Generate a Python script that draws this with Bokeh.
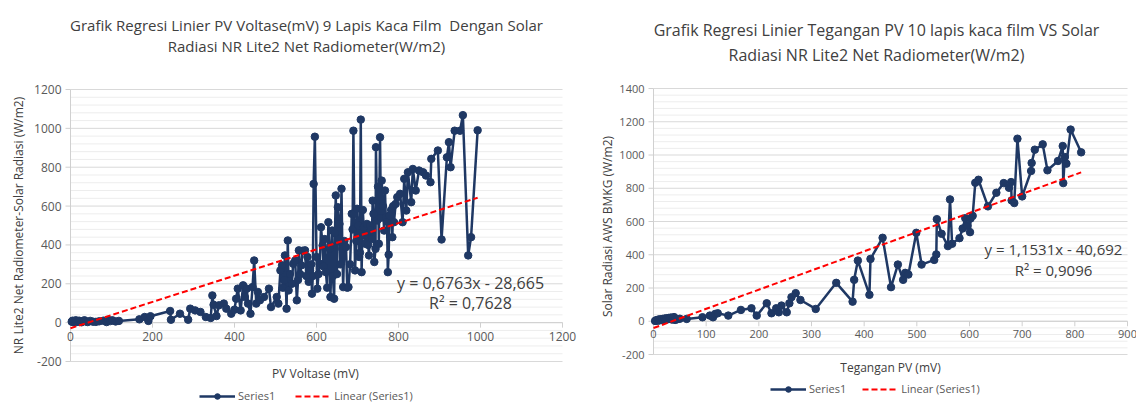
import math
from bokeh.plotting import figure
from bokeh.layouts import row
from bokeh.models import Range1d, Label, Legend, LegendItem
from bokeh.core.properties import value
from bokeh.embed import file_html
from bokeh.resources import INLINE

FONT = "Open Sans"
NAVY = "#1F3864"
RED = "#FF0000"
TXT = "#404040"
TICK_TXT = "#595959"
AXIS_COL = "#D0D0D0"
MAJOR_COL = "#D9D9D9"
MINOR_COL = "#EDEDED"
FIG_H = 403

# ---------------- Left chart data (PV Voltase mV vs NR Lite2 W/m2) ----------------
left_x = [3, 5, 7, 9, 11, 13, 15, 18, 21, 24, 27, 30, 34, 38, 42, 48, 55, 62, 70, 80,
          88, 92, 97, 102, 110, 118, 168, 181, 190, 195, 243, 245, 267, 287, 292, 304,
          317, 330, 342, 346, 349, 356, 362, 374, 380, 392, 400, 404, 408, 415, 421, 425,
          430, 433, 439, 444, 448, 453, 457, 462, 472, 484, 489, 503, 507, 512, 516, 518,
          521, 523, 527, 530, 532, 535, 540, 543, 548, 552, 555, 557, 560, 563, 566, 572,
          575, 578, 581, 584, 587, 589, 591, 593, 596, 600, 602, 605, 608, 611, 615, 617,
          620, 623, 626, 629, 632, 634, 638, 640, 643, 645, 647, 650, 652, 656, 658, 661,
          663, 665, 668, 672, 675, 678, 682, 686, 688, 690, 692, 694, 697, 699, 702, 704,
          706, 708, 710, 713, 715, 717, 719, 723, 726, 728, 730, 732, 735, 737, 739, 741,
          744, 745, 748, 750, 752, 755, 757, 759, 762, 765, 767, 769, 772, 774, 776, 778,
          782, 785, 787, 789, 793, 797, 804, 810, 814, 819, 823, 831, 835, 842, 850, 860,
          867, 878, 880, 896, 905, 918, 923, 927, 937, 950, 957, 970, 977, 993]
left_y = [5, 10, 2, 8, 4, 12, 3, 7, 10, 5, 2, 8, 12, 6, 3, 9, 5, 4, 7, 10,
          3, 14, 8, 12, 6, 9, 17, 29, 9, 33, 60, 15, 46, 15, 72, 63,
          55, 29, 24, 140, 92, 34, 89, 98, 72, 46, 67, 123, 175, 63, 192, 132,
          175, 98, 46, 183, 320, 98, 158, 115, 132, 175, 80, 132, 98, 269, 295, 180,
          218, 346, 72, 423, 166, 250, 200, 303, 320, 115, 220, 372, 250, 295, 370, 372,
          240, 338, 210, 269, 300, 149, 240, 714, 957, 338, 175, 250, 303, 491, 397, 290,
          430, 260, 180, 517, 380, 132, 474, 240, 123, 460, 655, 250, 594, 508, 300, 689,
          380, 183, 420, 389, 180, 183, 300, 560, 480, 988, 560, 269, 420, 586, 500, 338,
          360, 1045, 260, 580, 491, 450, 406, 508, 400, 346, 500, 474, 430, 628, 560, 312,
          380, 903, 526, 700, 406, 954, 540, 731, 600, 474, 680, 543, 520, 260, 350, 551,
          580, 440, 600, 517, 611, 646, 663, 517, 740, 577, 774, 620, 791, 680, 783, 774,
          757, 723, 843, 886, 428, 851, 929, 800, 988, 988, 1068, 346, 440, 990]
left_slope = 0.6763
left_intercept = -28.665
left_x_ticks = [0, 200, 400, 600, 800, 1000, 1200]
left_y_ticks = [-200, 0, 200, 400, 600, 800, 1000, 1200]

# ---------------- Right chart data (Tegangan PV mV vs AWS BMKG W/m2) ----------------
right_x = [3, 5, 7, 9, 11, 13, 15, 17, 19, 21, 23, 25, 27, 29, 31, 33, 35, 37, 39, 41,
           45, 50, 63, 93, 107, 113, 117, 122, 142, 166, 186, 196, 215, 224, 233, 238,
           243, 253, 258, 262, 270, 279, 308, 347, 378, 381, 388, 410, 412, 435, 451, 464,
           474, 478, 484, 499, 509, 533, 537, 538, 547, 559, 563, 567, 581, 587, 592, 596,
           601, 602, 606, 611, 617, 635, 651, 665, 675, 679, 680, 685, 691, 700, 717, 718,
           724, 739, 748, 768, 777, 778, 781, 784, 792, 812]
right_y = [2, 6, 3, 10, 5, 12, 8, 14, 6, 16, 10, 18, 12, 20, 15, 22, 10, 18, 25, 8,
           12, 15, 14, 24, 34, 24, 44, 48, 34, 68, 78, 34, 108, 48, 78, 54,
           94, 54, 108, 145, 169, 128, 74, 231, 118, 249, 365, 159, 375, 502, 205, 341,
           249, 291, 281, 532, 341, 369, 402, 614, 526, 452, 733, 466, 500, 558, 620, 574,
           536, 618, 634, 833, 851, 691, 773, 831, 803, 837, 727, 711, 1098, 751, 904, 952,
           1032, 1064, 908, 964, 1054, 831, 988, 948, 1153, 1016]
right_slope = 1.1531
right_intercept = -40.692
right_x_ticks = [0, 100, 200, 300, 400, 500, 600, 700, 800, 900]
right_y_ticks = [-200, 0, 200, 400, 600, 800, 1000, 1200, 1400]

MINOR_STEP = 40


def make_chart(xs, ys, slope, intercept, x_ticks, y_ticks, *, fig_left, width,
               plot_px, tick_px, title_lines, title_px, title_pos, ylabel, ylabel_pos,
               xlabel, xlabel_pos, eq_lines, eq_px, eq_pos, legend_pos, legend_spacing):
    # plot_px = (page x of first x tick, page x of last x tick,
    #            page y of last y tick, page y of first y tick)
    px0, px1, py_top, py_bot = plot_px
    kx = (px1 - px0) / (x_ticks[-1] - x_ticks[0])
    ky = (py_bot - py_top) / (y_ticks[-1] - y_ticks[0])
    x_start = x_ticks[0] - (px0 - fig_left) / kx
    x_end = x_ticks[-1] + (fig_left + width - px1) / kx
    y_start = y_ticks[0] - (FIG_H - py_bot) / ky
    y_end = y_ticks[-1] + py_top / ky

    p = figure(width=width, height=FIG_H, output_backend="svg", toolbar_location=None,
               x_range=Range1d(x_start, x_end), y_range=Range1d(y_start, y_end),
               min_border=0)
    p.axis.visible = False
    p.grid.visible = False
    p.outline_line_color = None
    p.background_fill_color = "white"
    p.border_fill_color = "white"

    x0, x1 = x_ticks[0], x_ticks[-1]
    # minor horizontal grid
    minor = [v for v in range(y_ticks[0], y_ticks[-1] + 1, MINOR_STEP) if v not in y_ticks]
    p.segment(x0=[x0] * len(minor), y0=minor, x1=[x1] * len(minor), y1=minor,
              line_color=MINOR_COL, line_width=1)
    # major horizontal grid
    p.segment(x0=[x0] * len(y_ticks), y0=y_ticks, x1=[x1] * len(y_ticks), y1=y_ticks,
              line_color=MAJOR_COL, line_width=1)
    # vertical axis line + ticks
    tick_dx = 5 / kx
    tick_dy = 5 / ky
    p.segment(x0=[x0], y0=[y_ticks[0]], x1=[x0], y1=[y_ticks[-1]],
              line_color=AXIS_COL, line_width=1)
    p.segment(x0=[x0] * len(y_ticks), y0=y_ticks, x1=[x0 - tick_dx] * len(y_ticks), y1=y_ticks,
              line_color=AXIS_COL, line_width=1)
    # horizontal axis line at y = 0 + ticks
    p.segment(x0=[x0], y0=[0], x1=[x1], y1=[0], line_color=AXIS_COL, line_width=1)
    p.segment(x0=x_ticks, y0=[0] * len(x_ticks), x1=x_ticks, y1=[-tick_dy] * len(x_ticks),
              line_color=AXIS_COL, line_width=1)
    # tick labels
    p.text(x=[x0] * len(y_ticks), y=y_ticks, text=[str(v) for v in y_ticks],
           x_offset=-9, text_align="right", text_baseline="middle",
           text_font=value(FONT), text_font_size=value(tick_px), text_color=TICK_TXT)
    p.text(x=x_ticks, y=[0] * len(x_ticks), text=[str(v) for v in x_ticks],
           y_offset=9, text_align="center", text_baseline="top",
           text_font=value(FONT), text_font_size=value(tick_px), text_color=TICK_TXT)

    # series
    r_line = p.line(xs, ys, line_color=NAVY, line_width=2.5)
    r_pts = p.scatter(xs, ys, size=7.5, fill_color=NAVY, line_color=NAVY)
    tx = [0, max(xs)]
    ty = [slope * v + intercept for v in tx]
    r_trend = p.line(tx, ty, line_color=RED, line_width=2, line_dash="6 3")

    def lab(text, pos, size, angle=0.0, color=TXT):
        p.add_layout(Label(x=pos[0] - fig_left, y=FIG_H - pos[1], x_units="screen",
                           y_units="screen", text=text, text_font=FONT,
                           text_font_size=size, text_color=color, angle=angle,
                           text_align="center", text_baseline="middle"))

    for t, (tx_, ty_) in zip(title_lines, title_pos):
        lab(t, (tx_, ty_), title_px)
    lab(ylabel, ylabel_pos, "12px", angle=math.pi / 2)
    lab(xlabel, xlabel_pos, "12px")
    for t, (ex, ey) in zip(eq_lines, eq_pos):
        lab(t, (ex, ey), eq_px)

    legend = Legend(items=[LegendItem(label="Series1", renderers=[r_line, r_pts]),
                           LegendItem(label="Linear (Series1)", renderers=[r_trend])],
                    location=(legend_pos[0] - fig_left, FIG_H - legend_pos[1]),
                    orientation="horizontal",
                    label_text_font=FONT, label_text_font_size="11px",
                    label_text_color=TICK_TXT, glyph_width=36, glyph_height=14,
                    label_height=14, label_standoff=3, spacing=legend_spacing, padding=0,
                    margin=0, border_line_color=None, background_fill_alpha=0)
    p.add_layout(legend, "center")
    return p


left = make_chart(
    left_x, left_y, left_slope, left_intercept, left_x_ticks, left_y_ticks,
    fig_left=0, width=580, plot_px=(70, 562, 89, 361), tick_px="12px",
    title_lines=["Grafik Regresi Linier PV Voltase(mV) 9 Lapis Kaca Film \u00a0Dengan Solar",
                 "Radiasi NR Lite2 Net Radiometer(W/m2)"],
    title_px="15px", title_pos=[(306, 24), (306, 45)],
    ylabel="NR Lite2 Net Radiometer-Solar Radiasi (W/m2)", ylabel_pos=(18, 225),
    xlabel="PV Voltase (mV)", xlabel_pos=(315, 373),
    eq_lines=["y = 0,6763x - 28,665", "R\u00b2 = 0,7628"], eq_px="16px",
    eq_pos=[(470, 282), (470, 302)],
    legend_pos=(199, 403), legend_spacing=20)

right = make_chart(
    right_x, right_y, right_slope, right_intercept, right_x_ticks, right_y_ticks,
    fig_left=580, width=556, plot_px=(653, 1127, 88, 354), tick_px="11px",
    title_lines=["Grafik Regresi Linier Tegangan PV 10 lapis kaca film VS Solar",
                 "Radiasi NR Lite2 Net Radiometer(W/m2)"],
    title_px="16px", title_pos=[(876, 29), (876, 54)],
    ylabel="Solar Radiasi AWS BMKG (W/m2)", ylabel_pos=(607, 226),
    xlabel="Tegangan PV (mV)", xlabel_pos=(890, 367),
    eq_lines=["y = 1,1531x - 40,692", "R\u00b2 = 0,9096"], eq_px="15px",
    eq_pos=[(1053, 248), (1053, 269)],
    legend_pos=(770, 396), legend_spacing=16)

layout = row(left, right)
open("out.html", "w").write(file_html(layout, INLINE))
